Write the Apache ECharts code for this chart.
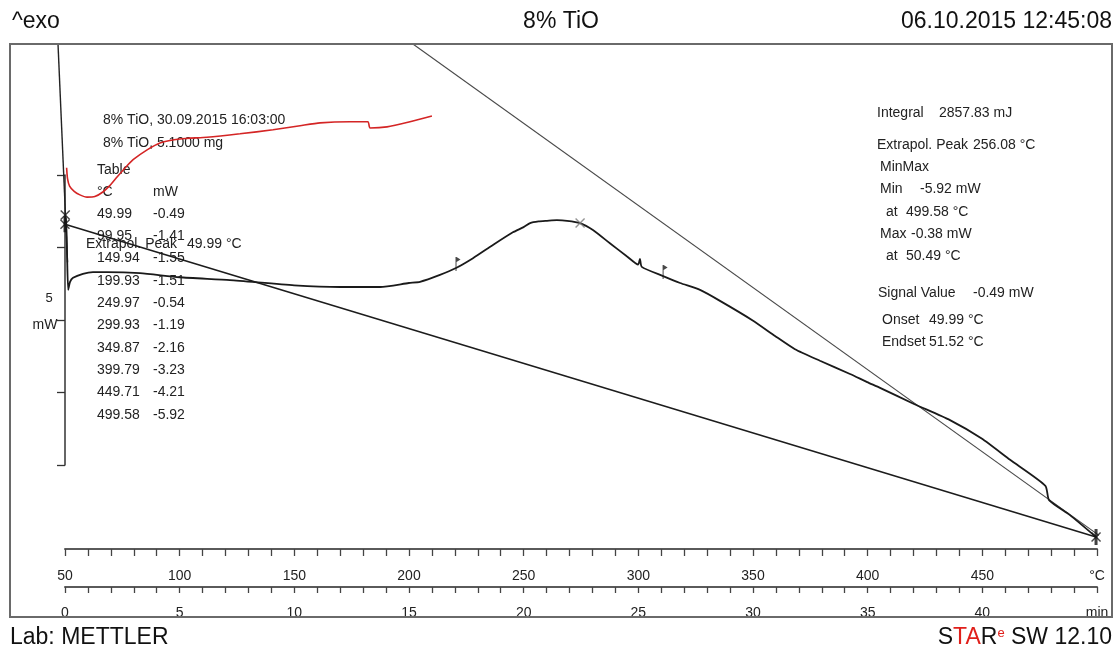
<!DOCTYPE html>
<html><head><meta charset="utf-8">
<script src="https://cdn.jsdelivr.net/npm/echarts/dist/echarts.min.js"></script>
<style>html,body{margin:0;padding:0;background:#fff}#c{width:1119px;height:654px}</style>
</head><body><div id="c"></div>
<script>
// ---------- DATA (temperature in °C, heat flow in mW) ----------
const curveT  = [49.99, 50.49, 50.9, 51.4, 52.2, 53.5, 57.8, 62.2, 68.3, 82.7, 99.95, 121.9, 149.94, 169.9, 187.4, 199.93, 204.8, 213.5, 220.5, 227.9, 236.6, 245.3, 249.97, 252.8, 256.5, 260.2, 264.5, 268.9, 274.6, 280.2, 287.6, 295.1, 299.93, 300.7, 301.5, 310.8, 318.2, 326.9, 335.6, 349.87, 359.6, 368.3, 379.2, 392.3, 399.79, 405.4, 420.2, 435.9, 449.71, 462.1, 477.5, 479.1, 488.2, 499.58];
const curveMW = [-0.49, -0.38, -1.02, -1.63, -1.49, -1.42, -1.35, -1.32, -1.32, -1.34, -1.41, -1.46, -1.55, -1.58, -1.58, -1.51, -1.49, -1.37, -1.25, -1.08, -0.85, -0.63, -0.54, -0.47, -0.44, -0.43, -0.42, -0.43, -0.47, -0.59, -0.82, -1.05, -1.19, -1.09, -1.23, -1.39, -1.51, -1.63, -1.82, -2.16, -2.43, -2.66, -2.86, -3.09, -3.23, -3.33, -3.61, -3.89, -4.21, -4.58, -5.03, -5.28, -5.54, -5.92];

const redT  = [50.7, 51.1, 52.0, 54.0, 56.5, 59.6, 63.0, 66.5, 69.5, 72.7, 76.5, 79.7, 85.8, 91.4, 100.1, 111.9, 126.3, 140.7, 152.5, 161.2, 174.3, 182.1, 183.0, 190.4, 200.4, 210.0];
const redMW = [0.49, 0.30, 0.17, 0.08, 0.02, -0.02, -0.01, 0.07, 0.18, 0.33, 0.50, 0.63, 0.80, 0.92, 0.99, 1.02, 1.08, 1.15, 1.22, 1.27, 1.29, 1.29, 1.18, 1.20, 1.29, 1.39];

const baselineT  = [49.99, 499.58];
const baselineMW = [-0.49, -5.92];
const tangentT   = [201.7, 504.0];
const tangentMW  = [2.64, -5.98];
const onsetT     = [46.95, 51.1];
const onsetMW    = [2.64, -1.15];

const endCrossT  = [49.99, 50.1, 499.58];
const endCrossMW = [-0.49, -0.33, -5.92];
const peakCrossT  = [274.6];
const peakCrossMW = [-0.47];
const flagT  = [220.5, 310.8];
const flagMW = [-1.25, -1.39];

const tableTemps = ['49.99', '99.95', '149.94', '199.93', '249.97', '299.93', '349.87', '399.79', '449.71', '499.58'];
const tableMWs   = ['-0.49', '-1.41', '-1.55', '-1.51', '-0.54', '-1.19', '-2.16', '-3.23', '-4.21', '-5.92'];
const infoLines  = ['8% TiO, 30.09.2015 16:03:00', '8% TiO, 5.1000 mg'];
const resultLabels = ['Integral', 'Extrapol. Peak', 'MinMax', 'Min', 'at', 'Max', 'at', 'Signal Value', 'Onset', 'Endset'];
const resultValues = ['2857.83 mJ', '256.08 °C', '', '-5.92 mW', '499.58 °C', '-0.38 mW', '50.49 °C', '-0.49 mW', '49.99 °C', '51.52 °C'];

const tempMin = 50, tempMax = 500, tempStep = 10, tempLabelStep = 50;
const timeMin = 0, timeMax = 45, timeStep = 1, timeLabelStep = 5;

// ---------- LAYOUT ----------
const FONT = '"Liberation Sans", Arial, sans-serif';
const Y_MIN = -6.128, Y_MAX = 2.639;
const PLOT_L = 65, PLOT_R = 1097, FRAME_L = 10;
const WIDE_MIN = tempMin - (PLOT_L - FRAME_L) * (tempMax - tempMin) / (PLOT_R - PLOT_L);
const resultY = [113, 145, 167, 189, 212, 234, 256, 293, 320, 342];
const resultLX = [877, 877, 880, 880, 886, 880, 886, 878, 882, 882];
const resultVX = [939, 973, 0, 920, 906, 911, 906, 973, 929, 929];

const zip = (a, b) => a.map((v, i) => [v, b[i]]);
const CROSS = 'path://M0,1L1,0L5,4L9,0L10,1L6,5L10,9L9,10L5,6L1,10L0,9L4,5Z';
const FLAG = 'path://M0,0L1,0L5,2.5L1,5L1,14L0,14Z';

const graphics = [];
function txt(x, y, s, size, opts) {
  graphics.push(Object.assign({ type: 'text', x: x, y: y, z: 1,
    style: Object.assign({ text: s, font: size + 'px ' + FONT, fill: '#222', align: 'left', verticalAlign: 'middle' }, (opts && opts.style) || {}) },
    opts && opts.el || {}));
}
// header / footer
txt(12, 22, '^exo', 23, { style: { fill: '#111' } });
txt(561, 22, '8% TiO', 23, { style: { fill: '#111', align: 'center' } });
txt(1112, 22, '06.10.2015 12:45:08', 23, { style: { fill: '#111', align: 'right' } });
txt(10, 638, 'Lab: METTLER', 23, { style: { fill: '#111' } });
graphics.push({ type: 'text', x: 1112, y: 638, z: 1, style: {
  text: '{k|S}{r|TA}{k|R}{s|e}{k| SW 12.10}', align: 'right', verticalAlign: 'middle',
  rich: {
    k: { font: '23px ' + FONT, fill: '#111' },
    r: { font: '23px ' + FONT, fill: '#e0201b' },
    s: { font: '13px ' + FONT, fill: '#e0201b', verticalAlign: 'top' }
  } } });
// left block
infoLines.forEach((s, i) => txt(103, 120 + i * 23, s, 14));
txt(97, 170, 'Table', 14);
txt(97, 192, '°C', 14);
txt(153, 192, 'mW', 14);
tableTemps.forEach((s, i) => { txt(97, 214 + i * 22.3, s, 14); txt(153, 214 + i * 22.3, tableMWs[i], 14); });
txt(86, 244, 'Extrapol. Peak', 14);
txt(187, 244, '49.99 °C', 14);
// y scale label
txt(49, 298, '5', 13, { style: { align: 'center' } });
txt(45, 325, 'mW', 14, { style: { align: 'center' } });
// right block
resultLabels.forEach((s, i) => { txt(resultLX[i], resultY[i], s, 14); if (resultValues[i]) txt(resultVX[i], resultY[i], resultValues[i], 14); });
// frame
graphics.push({ type: 'rect', z: 100, shape: { x: 10, y: 44, width: 1102, height: 573 },
  style: { fill: 'none', stroke: '#6a6a6a', lineWidth: 2 } });

const chart = echarts.init(document.getElementById('c'), null, { renderer: 'canvas' });
const lineBase = { type: 'line', xAxisIndex: 0, yAxisIndex: 0, showSymbol: false, symbol: 'none', animation: false, silent: true };
chart.setOption({
  animation: false,
  backgroundColor: '#ffffff',
  grid: [
    { left: PLOT_L, right: 1119 - PLOT_R, top: 44, bottom: 105 },
    { left: PLOT_L, top: 175, height: 290, width: 20 },
    { left: FRAME_L, right: 1119 - PLOT_R, top: 44, bottom: 105 }
  ],
  xAxis: [
    { gridIndex: 0, type: 'value', min: tempMin, max: tempMax, interval: tempStep, position: 'bottom',
      axisLine: { show: true, onZero: false, lineStyle: { color: '#5a5a5a', width: 2 } },
      axisTick: { show: true, length: 7, lineStyle: { color: '#444', width: 1.3 } },
      axisLabel: { margin: 20, fontFamily: FONT, fontSize: 14, color: '#222',
        formatter: v => v === tempMax ? '°C' : (v % tempLabelStep === 0 ? String(v) : '') },
      splitLine: { show: false } },
    { gridIndex: 0, type: 'value', min: timeMin, max: timeMax, interval: timeStep, position: 'bottom', offset: 38,
      axisLine: { show: true, onZero: false, lineStyle: { color: '#5a5a5a', width: 2 } },
      axisTick: { show: true, length: 6, lineStyle: { color: '#444', width: 1.3 } },
      axisLabel: { margin: 19, fontFamily: FONT, fontSize: 14, color: '#222',
        formatter: v => v === timeMax ? 'min' : (v % timeLabelStep === 0 ? String(v) : '') },
      splitLine: { show: false } },
    { gridIndex: 1, type: 'value', show: false, min: 0, max: 1 },
    { gridIndex: 2, type: 'value', show: false, min: WIDE_MIN, max: tempMax }
  ],
  yAxis: [
    { gridIndex: 0, type: 'value', min: Y_MIN, max: Y_MAX, show: false },
    { gridIndex: 1, type: 'value', min: 0, max: 4, interval: 1, position: 'left',
      axisLine: { show: true, lineStyle: { color: '#333', width: 1.5 } },
      axisTick: { show: true, length: 8, lineStyle: { color: '#333', width: 1.3 } },
      axisLabel: { show: false }, splitLine: { show: false } },
    { gridIndex: 2, type: 'value', min: Y_MIN, max: Y_MAX, show: false }
  ],
  series: [
    Object.assign({}, lineBase, { data: zip(baselineT, baselineMW), lineStyle: { color: '#1c1c1c', width: 1.6 }, z: 3 }),
    Object.assign({}, lineBase, { data: zip(tangentT, tangentMW), clip: false, lineStyle: { color: '#4a4a4a', width: 1.1 }, z: 3 }),
    Object.assign({}, lineBase, { xAxisIndex: 3, yAxisIndex: 2, data: zip(onsetT, onsetMW), lineStyle: { color: '#222', width: 1.4 }, z: 3 }),
    Object.assign({}, lineBase, { data: zip(curveT, curveMW), smooth: 0.2, lineStyle: { color: '#1a1a1a', width: 1.8 }, z: 4 }),
    Object.assign({}, lineBase, { data: zip(redT, redMW), smooth: 0.2, lineStyle: { color: '#d42525', width: 1.6 }, z: 4 }),
    { type: 'scatter', xAxisIndex: 0, yAxisIndex: 0, data: zip(endCrossT, endCrossMW), symbol: CROSS, symbolSize: 10,
      itemStyle: { color: '#1a1a1a' }, z: 5, silent: true },
    { type: 'scatter', xAxisIndex: 0, yAxisIndex: 0, data: zip([endCrossT[0], endCrossT[2]], [endCrossMW[0], endCrossMW[2]]), symbol: 'rect', symbolSize: [3, 16],
      itemStyle: { color: '#111' }, z: 5, silent: true },
    { type: 'scatter', xAxisIndex: 0, yAxisIndex: 0, data: zip(peakCrossT, peakCrossMW), symbol: CROSS, symbolSize: 10,
      itemStyle: { color: '#7a7a7a' }, z: 5, silent: true },
    { type: 'scatter', xAxisIndex: 0, yAxisIndex: 0, data: zip(flagT, flagMW), symbol: FLAG, symbolSize: [5, 14], symbolOffset: [2, -4],
      itemStyle: { color: '#1a1a1a' }, z: 5, silent: true }
  ],
  graphic: graphics
});
</script>
</body></html>
